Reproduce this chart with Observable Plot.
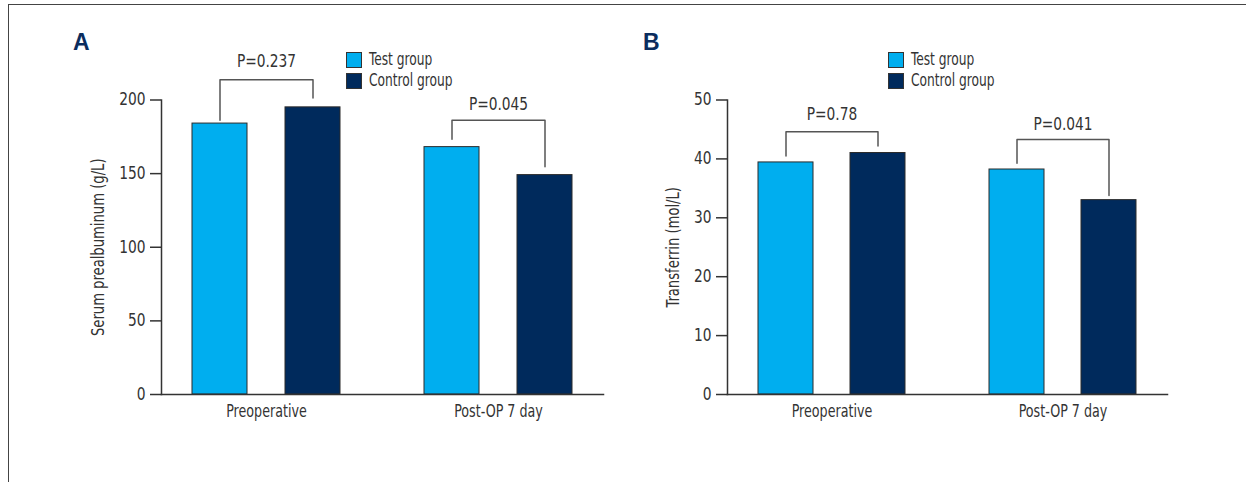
<!DOCTYPE html>
<html>
<head>
<meta charset="utf-8">
<script src="https://cdn.jsdelivr.net/npm/d3@7"></script>
<script src="https://cdn.jsdelivr.net/npm/@observablehq/plot@0.6"></script>
<style>
  html, body { margin: 0; padding: 0; background: #fff; }
  #wrap { position: relative; width: 1246px; height: 482px; overflow: hidden; font-family: 'Liberation Sans Narrow', 'DejaVu Sans Condensed', sans-serif; color: #333; }
  .border { position: absolute; left: 7.5px; top: 4px; right: -5px; bottom: -5px; border-top: 1.5px solid #444; border-left: 1.5px solid #444; }
  .panel { position: absolute; top: 0; }
  .letter { position: absolute; font-family: 'Liberation Sans', Arial, sans-serif; font-weight: bold; font-size: 23px; color: #0b2d5e; line-height: 1; }
  .legend { position: absolute; font-size: 17px; line-height: 1; }
  .legend .row { position: absolute; left: 0; white-space: nowrap; height: 16px; }
  .legend .sw { position: absolute; left: 0; top: 0; width: 14px; height: 14px; border: 1px solid #333; }
  .legend .lb { position: absolute; left: 23px; top: -1px; transform: scaleX(0.8); transform-origin: 0 50%; }
</style>
</head>
<body>
<div id="wrap">
  <div class="border"></div>
  <div class="panel" id="A" style="left:0"></div>
  <div class="panel" id="B" style="left:620px"></div>
  <div class="letter" style="left:73px; top:31px">A</div>
  <div class="letter" style="left:643px; top:31px">B</div>
  <div class="legend" id="legA" style="left:346px; top:52px"></div>
  <div class="legend" id="legB" style="left:888px; top:52px"></div>
</div>
<script>
// ---- data ----
const categories = ["Preoperative", "Post-OP 7 day"];
const groups = ["Test group", "Control group"];
const groupColors = ["#00aeef", "#002a5c"];

// Panel A: Serum prealbuminum (g/L)
const prealbTest = [184, 168];
const prealbControl = [195, 149];
const prealbTicks = [0, 50, 100, 150, 200];
const prealbPLabels = ["P=0.237", "P=0.045"];
const prealbBracketTop = [213.7, 186.2];
const prealbBracketLeft = [186.2, 173.4];
const prealbBracketRight = [201.4, 154.6];
const prealbPLabelY = [226.4, 196.6];

// Panel B: Transferrin (mol/L)
const transTest = [39.4, 38.2];
const transControl = [41, 33];
const transTicks = [0, 10, 20, 30, 40, 50];
const transPLabels = ["P=0.78", "P=0.041"];
const transBracketTop = [44.6, 43.3];
const transBracketLeft = [40.5, 39.25];
const transBracketRight = [42.2, 33.8];
const transPLabelY = [47.6, 45.9];

function panel({test, control, ticks, yLabel, pLabels, bTop, bLeft, bRight, pY, width, marginLeft, marginRight, labelOffset}) {
  const bars = [];
  categories.forEach((c, i) => {
    bars.push({cat: c, group: groups[0], value: test[i]});
    bars.push({cat: c, group: groups[1], value: control[i]});
  });
  const brackets = [];
  categories.forEach((c, i) => {
    brackets.push({cat: c, group: groups[0], v: bLeft[i]});
    brackets.push({cat: c, group: groups[0], v: bTop[i]});
    brackets.push({cat: c, group: groups[1], v: bTop[i]});
    brackets.push({cat: c, group: groups[1], v: bRight[i]});
  });
  const plabels = categories.map((c, i) => ({cat: c, y: pY[i], text: pLabels[i]}));
  const ymax = ticks[ticks.length - 1];
  return Plot.plot({
    width, height: 482,
    marginLeft, marginRight, marginTop: 99.5, marginBottom: 88,
    style: {fontFamily: "'Liberation Sans Narrow', 'DejaVu Sans Condensed', sans-serif", fontSize: "17px", color: "#333", background: "transparent", overflow: "visible"},
    fx: {domain: categories, paddingInner: 0.0946, paddingOuter: 0},
    x: {domain: groups, paddingInner: 0.406, paddingOuter: 0.3287, axis: null},
    y: {domain: [0, ymax]},
    color: {domain: groups, range: groupColors},
    marks: [
      Plot.barY(bars, {fx: "cat", x: "group", y: "value", fill: "group", stroke: "#2b2b2b", strokeWidth: 1}),
      Plot.line(brackets, {fx: "cat", x: "group", y: "v", z: "cat", stroke: "#555", strokeWidth: 1.5}),
      Plot.text(plabels, {fx: "cat", y: "y", text: "text", fontSize: 17, fill: "#333"}),
      Plot.frame({anchor: "bottom", facet: "super", stroke: "#333", strokeWidth: 1.5}),
      Plot.frame({anchor: "left", facet: "super", stroke: "#333", strokeWidth: 1.5}),
      Plot.axisY({ticks, tickSize: 11, tickPadding: 5, label: yLabel, labelAnchor: "center", labelArrow: "none", labelOffset, stroke: "#333", strokeWidth: 1.5}),
      Plot.axisFx({anchor: "bottom", label: null, tickSize: 0, tickPadding: 10})
    ]
  });
}

// narrow the text (the original uses a condensed face)
function condense(svg) {
  const rules = [
    ["y-axis tick label", 0.9, null],
    ["fx-axis tick label", 0.83, null],
    ["y-axis label", 0.86, 17],
    ["text", 0.9, null]
  ];
  for (const [name, f, size] of rules) {
    svg.querySelectorAll(`g[aria-label="${name}"] text`).forEach(t => {
      if (size) t.setAttribute("font-size", size);
      const w = t.getComputedTextLength();
      t.setAttribute("textLength", (w * f).toFixed(1));
      t.setAttribute("lengthAdjust", "spacingAndGlyphs");
    });
  }
}

const svgA = panel({
  test: prealbTest, control: prealbControl, ticks: prealbTicks, yLabel: "Serum prealbuminum (g/L)",
  pLabels: prealbPLabels, bTop: prealbBracketTop, bLeft: prealbBracketLeft, bRight: prealbBracketRight, pY: prealbPLabelY,
  width: 620, marginLeft: 161, marginRight: 16, labelOffset: 70
});
document.getElementById("A").append(svgA);
condense(svgA);
const svgB = panel({
  test: transTest, control: transControl, ticks: transTicks, yLabel: "Transferrin (mol/L)",
  pLabels: transPLabels, bTop: transBracketTop, bLeft: transBracketLeft, bRight: transBracketRight, pY: transPLabelY,
  width: 626, marginLeft: 106, marginRight: 78, labelOffset: 61
});
document.getElementById("B").append(svgB);
condense(svgB);

for (const id of ["legA", "legB"]) {
  const el = document.getElementById(id);
  groups.forEach((g, i) => {
    const row = document.createElement("div");
    row.className = "row";
    row.style.top = (i * 21) + "px";
    row.innerHTML = `<div class="sw" style="background:${groupColors[i]}"></div><div class="lb">${g}</div>`;
    el.append(row);
  });
}
</script>
</body>
</html>
